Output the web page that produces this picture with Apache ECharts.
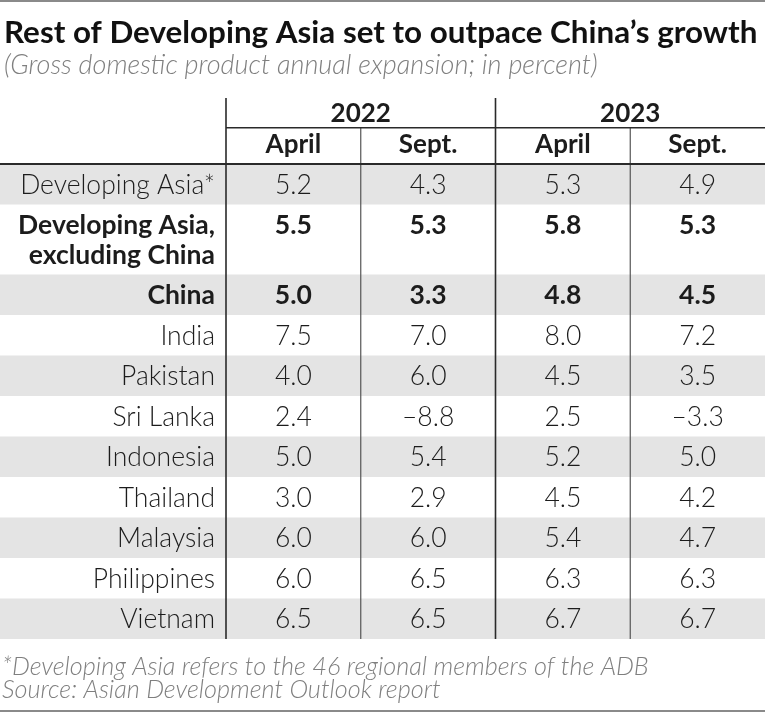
<!DOCTYPE html>
<html><head><meta charset="utf-8">
<script src="https://cdn.jsdelivr.net/npm/echarts@6/dist/echarts.min.js"></script>
<style>html,body{margin:0;padding:0;background:#fff}#c{width:765px;height:713px}</style>
</head><body><div id="c"></div>
<script>
// ---------- data ----------
const titleText = 'Rest of Developing Asia set to outpace China\u2019s growth';
const subtitleText = '(Gross domestic product annual expansion; in percent)';
const footnotes = ['*Developing Asia refers to the 46 regional members of the ADB', 'Source: Asian Development Outlook report'];
const years = ['2022', '2023'];
const months = ['April', 'Sept.', 'April', 'Sept.'];
const regions = ['Developing Asia*', 'Developing Asia,\nexcluding China', 'China', 'India', 'Pakistan', 'Sri Lanka', 'Indonesia', 'Thailand', 'Malaysia', 'Philippines', 'Vietnam'];
const boldRegions = ['Developing Asia,\nexcluding China', 'China'];
const april2022 = [5.2, 5.5, 5.0, 7.5, 4.0, 2.4, 5.0, 3.0, 6.0, 6.0, 6.5];
const sept2022  = [4.3, 5.3, 3.3, 7.0, 6.0, -8.8, 5.4, 2.9, 6.0, 6.5, 6.5];
const april2023 = [5.3, 5.8, 4.8, 8.0, 4.5, 2.5, 5.2, 4.5, 5.4, 6.3, 6.7];
const sept2023  = [4.9, 5.3, 4.5, 7.2, 3.5, -3.3, 5.0, 4.2, 4.7, 6.3, 6.7];
const columns = [april2022, sept2022, april2023, sept2023];

// ---------- layout / style ----------
const FONT = 'Lato, "Open Sans", sans-serif';
const TEXT = '#1c1c1c', GREY_TEXT = '#7f7f7f', BAND = '#e4e4e4', LINE = '#2a2a2a';
const YEAR_H = 29.7, MONTH_H = 36.3, ROW_PAD = 11, LINE_H = 29.5;
const BODY_SIZE = 26.5, HEAD_SIZE = 26;
const rowTops = [];
let acc = YEAR_H + MONTH_H;
regions.forEach(r => { rowTops.push(acc); acc += ROW_PAD + LINE_H * r.split('\n').length; });
const totalH = acc;
const rowBottom = i => (i + 1 < rowTops.length ? rowTops[i + 1] : totalH);

const mctx = document.createElement('canvas').getContext('2d');
function fitSize(text, style, weight, target, base) {
  mctx.font = style + ' ' + weight + ' ' + base + 'px ' + FONT;
  return base * target / mctx.measureText(text).width;
}
const titleSize = fitSize(titleText, 'normal', 700, 754, 31);
const subSize = fitSize(subtitleText, 'italic', 300, 594, 24);
const footSize = fitSize(footnotes[0], 'italic', 300, 647, 20.5);

function fmt(v) { return v.toFixed(1).replace('-', '\u2013'); }
function txt(text, x, y, o) {
  o = o || {};
  return {
    type: 'text', z2: 10,
    style: {
      text: text, x: x, y: y,
      textAlign: o.align || 'center', align: o.align || 'center',
      textVerticalAlign: 'middle', verticalAlign: 'middle',
      fontSize: o.size || BODY_SIZE, fontWeight: o.weight || 300,
      fontStyle: o.style || 'normal', fontFamily: FONT, fill: o.fill || TEXT
    }
  };
}
function gtext(text, x, y, size, weight, style, fill) {
  return { type: 'text', x: x, y: y,
    style: { text: text, fontSize: size, fontWeight: weight, fontStyle: style, fontFamily: FONT, fill: fill,
      textVerticalAlign: 'middle', verticalAlign: 'middle' } };
}

const chart = echarts.init(document.getElementById('c'), null, { renderer: 'canvas' });
chart.setOption({
  animation: false,
  backgroundColor: '#fff',
  grid: { left: 226, right: 0, top: 98, bottom: 713 - 98 - totalH },
  xAxis: { type: 'value', min: 0, max: months.length, show: false },
  yAxis: { type: 'value', min: 0, max: totalH, inverse: true, show: false },
  graphic: [
    { type: 'line', shape: { x1: 0, y1: 1, x2: 765, y2: 1 }, style: { stroke: '#8a8a8a', lineWidth: 2 } },
    { type: 'line', shape: { x1: 0, y1: 711, x2: 765, y2: 711 }, style: { stroke: '#8a8a8a', lineWidth: 2 } },
    gtext(titleText, 4, 33, titleSize, 700, 'normal', '#111'),
    gtext(subtitleText, 4, 65, subSize, 300, 'italic', GREY_TEXT),
    gtext(footnotes[0], 2, 667, footSize, 300, 'italic', GREY_TEXT),
    gtext(footnotes[1], 2, 690, footSize, 300, 'italic', GREY_TEXT)
  ],
  series: [
    {
      type: 'custom', z: 2, clip: false,
      data: regions.map((r, i) => [i]),
      renderItem: function (params, api) {
        const i = api.value(0);
        const cs = params.coordSys;
        const top = rowTops[i], bottom = rowBottom(i);
        const pTop = api.coord([0, top]), pBot = api.coord([0, bottom]);
        const children = [];
        if (i % 2 === 0) {
          children.push({ type: 'rect', shape: { x: 0, y: pTop[1], width: cs.x + cs.width, height: pBot[1] - pTop[1] }, style: { fill: BAND } });
        }
        const bold = boldRegions.indexOf(regions[i]) >= 0;
        const weight = bold ? 700 : 300;
        const firstY = top + ROW_PAD / 2 + LINE_H / 2;
        regions[i].split('\n').forEach((line, k) => {
          const p = api.coord([0, firstY + k * LINE_H]);
          children.push(txt(line, p[0] - 11, p[1] + 1, { align: 'right', weight: weight }));
        });
        columns.forEach((col, c) => {
          const p = api.coord([c + 0.5, firstY]);
          children.push(txt(fmt(col[i]), p[0], p[1] + 1, { weight: weight }));
        });
        return { type: 'group', children: children };
      }
    },
    {
      type: 'custom', z: 5, clip: false,
      data: [[0]],
      renderItem: function (params, api) {
        const cs = params.coordSys;
        const children = [];
        const yTop = api.coord([0, 0])[1];
        const yYear = api.coord([0, YEAR_H])[1];
        const yHead = api.coord([0, YEAR_H + MONTH_H])[1];
        const yEnd = api.coord([0, totalH])[1];
        years.forEach((y, k) => {
          const p = api.coord([k * 2 + 1, YEAR_H / 2]);
          children.push(txt(y, p[0], p[1] + 1, { weight: 700, size: HEAD_SIZE }));
        });
        months.forEach((m, c) => {
          const p = api.coord([c + 0.5, YEAR_H + MONTH_H / 2]);
          children.push(txt(m, p[0], p[1] - 1, { weight: 700, size: HEAD_SIZE }));
        });
        for (let c = 0; c < months.length; c++) {
          const x = api.coord([c, 0])[0];
          const major = c % 2 === 0;
          children.push({ type: 'line', shape: { x1: x, y1: major ? yTop : yYear, x2: x, y2: yEnd },
            style: { stroke: major ? LINE : '#555', lineWidth: major ? 1.6 : 1.2 } });
        }
        children.push({ type: 'line', shape: { x1: cs.x, y1: yYear, x2: cs.x + cs.width, y2: yYear }, style: { stroke: LINE, lineWidth: 1.6 } });
        children.push({ type: 'line', shape: { x1: 0, y1: yHead, x2: cs.x + cs.width, y2: yHead }, style: { stroke: LINE, lineWidth: 2 } });
        return { type: 'group', children: children };
      }
    }
  ]
});
</script>
</body></html>
